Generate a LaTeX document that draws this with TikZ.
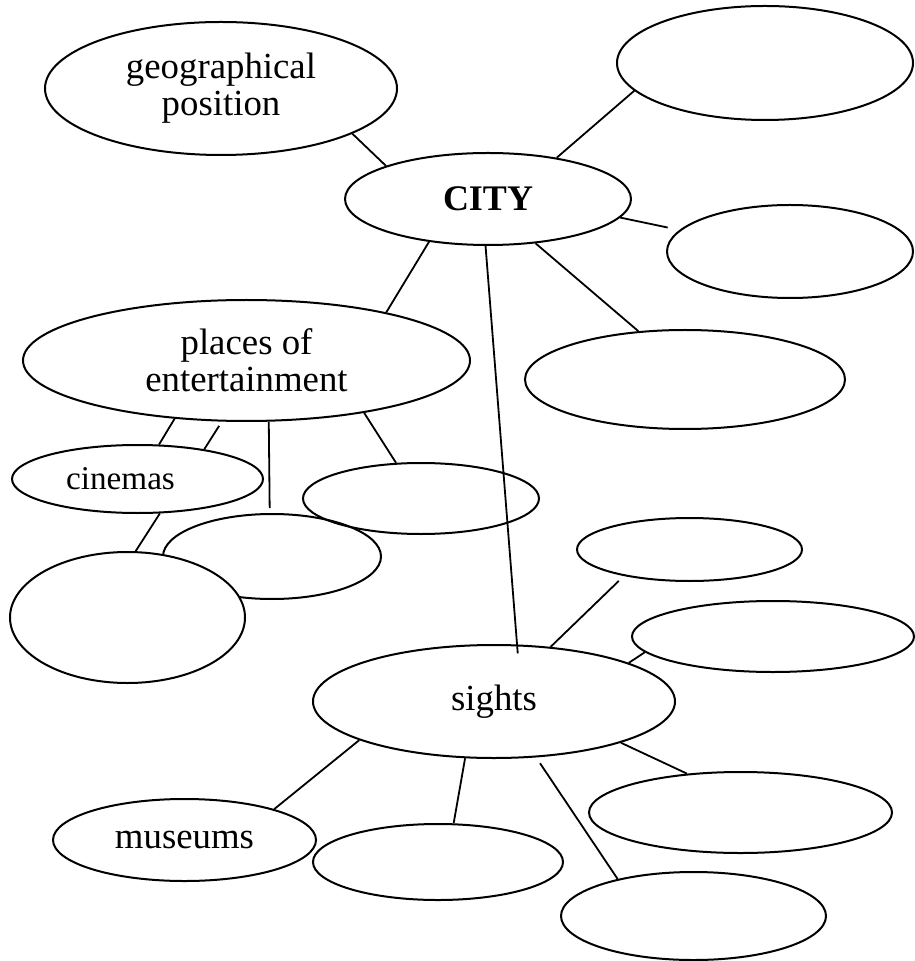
\documentclass[tikz,border=0pt]{standalone}
\usepackage{fontspec}
\setmainfont{Liberation Serif}
\usetikzlibrary{shapes.geometric}

\begin{document}
\begin{tikzpicture}[x=0.5pt,y=-0.5pt,
  bubble/.style={draw,ellipse,line width=1pt,inner sep=0pt,align=center,
    font=\fontsize{18.4}{18.4}\selectfont},
  link/.style={line width=0.9pt}]

  \useasboundingbox (0,0) rectangle (914,961);

  \node (geo) [bubble,minimum width=176pt,minimum height=66.5pt] at (221,88.5) {geographical\\position};
  \node (tr) [bubble,minimum width=148pt,minimum height=57pt] at (765,63) {};
  \node (city) [bubble,minimum width=143pt,minimum height=46pt,font=\fontsize{18}{18}\bfseries] at (488,199) {CITY};
  \node (r1) [bubble,minimum width=123pt,minimum height=46.5pt] at (790,251.5) {};
  \node (places) [bubble,minimum width=223.5pt,minimum height=60.5pt] at (246.5,360.5) {places of\\entertainment};
  \node (rm) [bubble,minimum width=160pt,minimum height=49.5pt] at (685,379.5) {};
  \node (cinemas) [bubble,minimum width=125.5pt,minimum height=34pt,font=\fontsize{16.6}{16.6}\selectfont] at (137.5,479) {cinemas\hspace*{17pt}};
  \node (e8) [bubble,minimum width=118pt,minimum height=35.5pt] at (421,498.5) {};
  \node (e9) [bubble,minimum width=109pt,minimum height=42.5pt] at (272,556.5) {};
  \node (big) [bubble,fill=white,minimum width=117.5pt,minimum height=65.5pt] at (127.5,617.5) {};

  \node (s1) [bubble,minimum width=112.5pt,minimum height=31.5pt] at (689.5,549.5) {};
  \node (s2) [bubble,minimum width=141pt,minimum height=35.5pt] at (773,636.5) {};
  \node (sights) [bubble,minimum width=181pt,minimum height=56.5pt] at (494,701.5) {sights};
  \node (s3) [bubble,minimum width=151.5pt,minimum height=40.5pt] at (740.5,812.5) {};
  \node (museums) [bubble,minimum width=131.5pt,minimum height=41pt] at (184.5,840) {museums};
  \node (s4) [bubble,minimum width=125pt,minimum height=38pt] at (438,862) {};
  \node (s5) [bubble,minimum width=132.5pt,minimum height=44pt] at (693.5,916) {};

  \draw[link] (geo.-19.2) -- (city.162.6);
  \draw[link] (tr.192.2) -- (city.31.3);
  \draw[link,shorten >=6pt] (city.-8.1) -- (r1.169.4);
  \draw[link] (city.216.6) -- (places.19.3);
  \draw[link] (city.-43.7) -- (rm.134.7);
  \draw[link,shorten >=-4.5pt] (city.-93.8) -- (sights.68.2);

  \draw[link] (places.-141.2) -- (cinemas.58.7);
  \draw[link,shorten <=2.5pt] (places.-112.8) -- (cinemas.24.6);
  \draw[link,shorten >=2.5pt] (places.-70.1) -- (e9.93.6);
  \draw[link] (places.-24.4) -- (e8.125.2);
  \draw[link] (cinemas.-57.3) -- (big.83.6);

  \draw[link,shorten >=3.5pt] (sights.44.7) -- (s1.-158.7);
  \draw[link] (sights.16.1) -- (s2.187);
  \draw[link] (sights.-18) -- (s3.144.6);
  \draw[link] (sights.196.6) -- (museums.19.1);
  \draw[link] (sights.-117.1) -- (s4.68.2);
  \draw[link,shorten <=3.5pt] (sights.-53.2) -- (s5.154.5);
\end{tikzpicture}
\end{document}
